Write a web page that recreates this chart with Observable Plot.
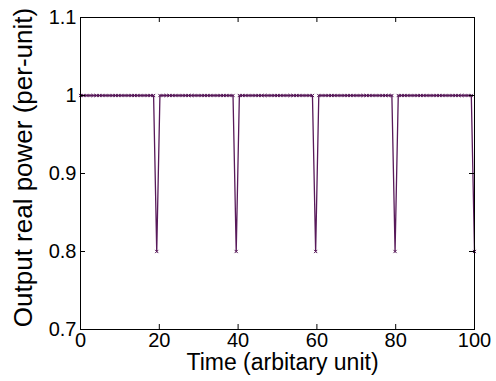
<!DOCTYPE html>
<html>
<head>
<meta charset="utf-8">
<script src="https://cdn.jsdelivr.net/npm/d3@7"></script>
<script src="https://cdn.jsdelivr.net/npm/@observablehq/plot@0.6"></script>
<style>
  html, body { margin: 0; padding: 0; background: #fff; }
  #chart { width: 496px; height: 381px; }
  svg { font-family: "Liberation Sans", Arial, sans-serif; }
</style>
</head>
<body>
<div id="chart"></div>
<script>
// Sample times (arbitrary unit)
const times = [
  0, 0.81, 1.61, 2.42, 3.23, 4.03, 4.84, 5.65, 6.45, 7.26,
  8.06, 8.87, 9.68, 10.48, 11.29, 12.10, 12.90, 13.71, 14.52, 15.32,
  16.13, 16.94, 17.74, 18.55, 19.35, 20.16, 20.97, 21.77, 22.58, 23.39,
  24.19, 25.00, 25.81, 26.61, 27.42, 28.23, 29.03, 29.84, 30.65, 31.45,
  32.26, 33.06, 33.87, 34.68, 35.48, 36.29, 37.10, 37.90, 38.71, 39.52,
  40.32, 41.13, 41.94, 42.74, 43.55, 44.35, 45.16, 45.97, 46.77, 47.58,
  48.39, 49.19, 50.00, 50.81, 51.61, 52.42, 53.23, 54.03, 54.84, 55.65,
  56.45, 57.26, 58.06, 58.87, 59.68, 60.48, 61.29, 62.10, 62.90, 63.71,
  64.52, 65.32, 66.13, 66.94, 67.74, 68.55, 69.35, 70.16, 70.97, 71.77,
  72.58, 73.39, 74.19, 75.00, 75.81, 76.61, 77.42, 78.23, 79.03, 79.84,
  80.65, 81.45, 82.26, 83.06, 83.87, 84.68, 85.48, 86.29, 87.10, 87.90,
  88.71, 89.52, 90.32, 91.13, 91.94, 92.74, 93.55, 94.35, 95.16, 95.97,
  96.77, 97.58, 98.39, 99.19, 100
];
// Output real power (per-unit)
const power = [
  1, 1, 1, 1, 1, 1, 1, 1, 1, 1,
  1, 1, 1, 1, 1, 1, 1, 1, 1, 1,
  1, 1, 1, 1, 0.8, 1, 1, 1, 1, 1,
  1, 1, 1, 1, 1, 1, 1, 1, 1, 1,
  1, 1, 1, 1, 1, 1, 1, 1, 1, 0.8,
  1, 1, 1, 1, 1, 1, 1, 1, 1, 1,
  1, 1, 1, 1, 1, 1, 1, 1, 1, 1,
  1, 1, 1, 1, 0.8, 1, 1, 1, 1, 1,
  1, 1, 1, 1, 1, 1, 1, 1, 1, 1,
  1, 1, 1, 1, 1, 1, 1, 1, 1, 0.8,
  1, 1, 1, 1, 1, 1, 1, 1, 1, 1,
  1, 1, 1, 1, 1, 1, 1, 1, 1, 1,
  1, 1, 1, 1, 0.8
];
const xTicks = [0, 20, 40, 60, 80, 100];
const yTicks = [0.7, 0.8, 0.9, 1, 1.1];
const xLabel = "Time (arbitary unit)";
const yLabel = "Output real power (per-unit)";

const data = times.map((t, i) => ({t, p: power[i]}));

const W = 496, H = 381;
const mL = 80, mR = 22, mT = 17, mB = 52;
const innerH = H - mT - mB;
const innerW = W - mL - mR;
const tick = 5;
const lineColor = "#581a5a";
const fs = 20;

const chart = Plot.plot({
  width: W,
  height: H,
  marginLeft: mL,
  marginRight: mR,
  marginTop: mT,
  marginBottom: mB,
  style: {background: "#fff", color: "#000", fontSize: fs + "px"},
  x: {domain: [0, 100], ticks: xTicks},
  y: {domain: [0.7, 1.1], ticks: yTicks},
  marks: [
    Plot.line(data, {x: "t", y: "p", stroke: lineColor, strokeWidth: 1.3}),
    Plot.dot(data, {x: "t", y: "p", symbol: "times", r: 1.6, stroke: lineColor, strokeWidth: 1}),
    // inward ticks (bottom, top, left, right)
    Plot.ruleX(xTicks, {x: d => d, insetTop: innerH - tick, stroke: "#000"}),
    Plot.ruleX(xTicks, {x: d => d, insetBottom: innerH - tick, stroke: "#000"}),
    Plot.ruleY(yTicks, {y: d => d, insetRight: innerW - tick, stroke: "#000"}),
    Plot.ruleY(yTicks, {y: d => d, insetLeft: innerW - tick, stroke: "#000"}),
    Plot.frame({stroke: "#000", strokeWidth: 1}),
    Plot.axisX(xTicks, {tickSize: 0, tickPadding: 3, fontSize: fs, label: null, tickFormat: d => String(d)}),
    Plot.axisY(yTicks, {tickSize: 0, tickPadding: 4, fontSize: fs, label: null, tickFormat: d => String(d)}),
    Plot.text([xLabel], {frameAnchor: "bottom", dy: 40, dx: 5, fontSize: 23, textAnchor: "middle", text: d => d}),
    Plot.text([yLabel], {frameAnchor: "left", dx: -57, dy: -6, rotate: -90, fontSize: 26, textAnchor: "middle", text: d => d})
  ]
});
document.getElementById("chart").appendChild(chart);
</script>
</body>
</html>
